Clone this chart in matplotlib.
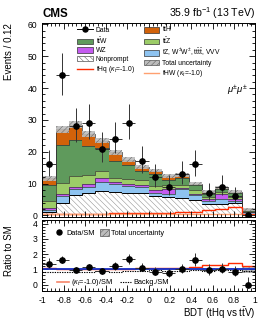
import numpy as np
import matplotlib
matplotlib.use("Agg")
import matplotlib.pyplot as plt
from matplotlib.patches import Patch
from matplotlib.lines import Line2D

plt.rcParams['font.family'] = ['Liberation Sans', 'DejaVu Sans']
plt.rcParams['mathtext.fontset'] = 'custom'
plt.rcParams['mathtext.rm'] = 'Liberation Sans'
plt.rcParams['mathtext.it'] = 'Liberation Sans:italic'
plt.rcParams['mathtext.bf'] = 'Liberation Sans:bold'
plt.rcParams['hatch.linewidth'] = 0.35

# ---------------- data ----------------
bin_edges = np.linspace(-1.0, 1.0, 17)
data = [16, 44, 28, 29, 21, 24, 29, 17, 12, 9, 13, 16, 7, 9, 6, 0]

nonprompt = [1.0, 4.0, 6.5, 6.9, 7.8, 7.5, 7.2, 7.0, 6.0, 5.8, 5.5, 4.7, 3.5, 3.7, 3.9, 0.5]
tz_other  = [0.6, 2.2, 1.9, 2.0, 2.6, 2.3, 2.0, 2.0, 1.0, 1.0, 2.7, 1.6, 0.9, 1.5, 0.7, 0.6]
wz        = [0.6, 0.6, 0.6, 1.0, 1.3, 0.6, 0.7, 0.6, 1.0, 1.6, 0.4, 0.5, 0.8, 1.6, 0.6, 0.1]
ttz       = [2.3, 3.4, 3.3, 2.7, 2.2, 1.5, 1.6, 1.4, 1.1, 1.0, 0.8, 1.1, 0.6, 0.5, 0.5, 0.2]
ttw       = [5.2, 12.0, 11.3, 9.3, 7.2, 5.1, 4.4, 2.9, 4.0, 1.8, 2.2, 1.5, 1.0, 1.0, 1.2, 0.3]
tth       = [2.0, 4.8, 4.9, 3.6, 2.4, 2.9, 1.6, 1.3, 1.0, 1.1, 1.0, 0.6, 0.6, 0.5, 0.5, 0.2]
total_unc = [0.8, 1.1, 1.1, 1.0, 0.9, 0.8, 0.7, 0.6, 0.6, 0.6, 0.6, 0.5, 0.5, 0.5, 0.5, 0.4]

thq_kt_m1 = [0.5, 0.5, 0.6, 0.6, 0.6, 0.7, 0.7, 0.8, 0.9, 0.9, 1.0, 1.2, 1.6, 2.0, 2.5, 0.3]
thw_kt_m1 = [0.3, 0.3, 0.3, 0.3, 0.3, 0.3, 0.3, 0.4, 0.4, 0.4, 0.4, 0.4, 0.5, 0.5, 0.5, 0.1]

components = [
    ("Nonprompt", nonprompt, "white"),
    ("tZ, W$^{\\pm}$W$^{\\pm}$, t$\\bar{\\mathrm{t}}$t$\\bar{\\mathrm{t}}$, VVV", tz_other, "#8ec3f0"),
    ("WZ", wz, "#c45bf0"),
    ("t$\\bar{\\mathrm{t}}$Z", ttz, "#9ccc68"),
    ("t$\\bar{\\mathrm{t}}$W", ttw, "#5f9a5c"),
    ("t$\\bar{\\mathrm{t}}$H", tth, "#d2620a"),
]

# ---------------- figure ----------------
fig = plt.figure(figsize=(2.66, 3.22), dpi=100)
ax1 = fig.add_axes([0.159, 0.326, 0.800, 0.6034])
ax2 = fig.add_axes([0.159, 0.0972, 0.800, 0.2196])

edges = bin_edges
centers = 0.5 * (edges[:-1] + edges[1:])
halfw = 0.5 * (edges[1] - edges[0])

bottom = np.zeros(16)
for name, vals, col in components:
    vals = np.asarray(vals, float)
    top = bottom + vals
    if name == "Nonprompt":
        ax1.stairs(top, edges, baseline=bottom, fill=True, facecolor="white",
                   edgecolor="#8a8a8a", hatch="\\\\\\\\\\\\", linewidth=0)
        ax1.stairs(top, edges, baseline=None, color="black", linewidth=0.7)
    else:
        ax1.stairs(top, edges, baseline=bottom, fill=True, facecolor=col,
                   edgecolor="none", linewidth=0)
        ax1.stairs(top, edges, baseline=None, color="#333333", linewidth=0.5)
    bottom = top
total = bottom.copy()
unc = np.asarray(total_unc, float)

ax1.stairs(total + unc, edges, baseline=total - unc, fill=True,
           facecolor="#bdbdbd", edgecolor="#555555", hatch="//////", linewidth=0, alpha=0.9)

ax1.stairs(thq_kt_m1, edges, baseline=None, color="#ff2a00", linewidth=1.0)
ax1.stairs(thw_kt_m1, edges, baseline=None, color="#ffa070", linewidth=1.0)

d = np.asarray(data, float)
err_up = 0.5 + np.sqrt(d + 0.25)
err_dn = np.where(d > 0, -0.5 + np.sqrt(d + 0.25), 0.0)
ax1.errorbar(centers, d, xerr=halfw, yerr=[err_dn, err_up], fmt='o', color='black',
             ecolor='#333333', elinewidth=0.7, markersize=3.8, capsize=0, zorder=10)

ax1.set_xlim(-1, 1)
ax1.set_ylim(-0.5, 60.5)
ax1.set_yticks(np.arange(0, 61, 10))
ax1.set_yticks(np.arange(0, 61, 2), minor=True)
ax1.set_xticks(np.arange(-1, 1.01, 0.2))
ax1.set_xticks(np.arange(-1, 1.001, 0.04), minor=True)
ax1.tick_params(labelbottom=False)
ax1.set_ylabel("Events / 0.12", loc="top", fontsize=7)
ax1.yaxis.set_label_coords(-0.135, 1.0)

ax1.text(0.74, 39, "$\\mu^{\\pm}\\mu^{\\pm}$", fontsize=6.8, ha="left", va="center")

# legend upper
h = [
    Line2D([], [], marker='o', color='black', markersize=3.6, linewidth=0.7),
    Patch(facecolor="#5f9a5c", edgecolor="#333333", linewidth=0.5),
    Patch(facecolor="#c45bf0", edgecolor="#333333", linewidth=0.5),
    Patch(facecolor="white", edgecolor="#555555", hatch="\\\\\\\\\\\\", linewidth=0.5),
    Line2D([], [], color="#ff2a00", linewidth=1.0),
    Patch(facecolor="#d2620a", edgecolor="#333333", linewidth=0.5),
    Patch(facecolor="#9ccc68", edgecolor="#333333", linewidth=0.5),
    Patch(facecolor="#8ec3f0", edgecolor="#333333", linewidth=0.5),
    Patch(facecolor="#bdbdbd", edgecolor="#555555", hatch="//////", linewidth=0.5),
    Line2D([], [], color="#ffa070", linewidth=1.0),
]
labels = ["Data", "t$\\bar{\\mathrm{t}}$W", "WZ", "Nonprompt", "tHq ($\\kappa_t$=-1.0)",
          "t$\\bar{\\mathrm{t}}$H", "t$\\bar{\\mathrm{t}}$Z",
          "tZ, W$^{\\pm}$W$^{\\pm}$, t$\\bar{\\mathrm{t}}$t$\\bar{\\mathrm{t}}$, VVV",
          "Total uncertainty", "tHW ($\\kappa_t$=-1.0)"]
ax1.legend(h, labels, ncol=2, loc="upper left", bbox_to_anchor=(0.163, 0.995),
           frameon=False, fontsize=4.9, handlelength=2.3, handleheight=0.9,
           labelspacing=0.2, handletextpad=0.45, columnspacing=1.3,
           borderpad=0, borderaxespad=0)

# ---------------- ratio ----------------
ratio = d / total
r_up = err_up / total
r_dn = err_dn / total
ratio_unc = unc / total
sig_ratio = 1 + (np.asarray(thq_kt_m1) + np.asarray(thw_kt_m1)) / total
bkg_ratio = (total - np.asarray(tth)) / total

ax2.stairs(1 + ratio_unc, edges, baseline=1 - ratio_unc, fill=True,
           facecolor="#bdbdbd", edgecolor="#555555", hatch="//////", linewidth=0, alpha=0.9)
ax2.axhline(1.0, color="#1530c8", linewidth=1.3)
ax2.stairs(sig_ratio, edges, baseline=None, color="#ff2a00", linewidth=1.0)
ax2.stairs(bkg_ratio, edges, baseline=None, color="black", linewidth=0.8, linestyle=(0, (1.2, 1.0)))
ax2.errorbar(centers, ratio, xerr=halfw, yerr=[r_dn, r_up], fmt='o', color='black',
             ecolor='#333333', elinewidth=0.7, markersize=3.8, capsize=0, zorder=10)

ax2.set_xlim(-1, 1)
ax2.set_ylim(-0.4, 4.25)
ax2.set_yticks(np.arange(0, 5, 1))
ax2.set_yticks(np.arange(-0.4, 4.25, 0.2), minor=True)
xt = np.round(np.arange(-1, 1.01, 0.2), 1)
ax2.set_xticks(xt)
ax2.set_xticklabels(["%g" % v if v != 0 else "0" for v in xt])
ax2.set_xticks(np.arange(-1, 1.001, 0.04), minor=True)
ax2.set_ylabel("Ratio to SM", loc="top", fontsize=7)
ax2.yaxis.set_label_coords(-0.135, 0.93)
ax2.set_xlabel("BDT (tHq vs t$\\bar{\\mathrm{t}}$V)", loc="right", fontsize=7)
ax2.xaxis.set_label_coords(1.0, -0.2)

for ax in (ax1, ax2):
    ax.tick_params(which="both", direction="in", top=True, right=True, labelsize=6.2, width=0.6)
    ax.tick_params(which="major", length=4)
    ax.tick_params(which="minor", length=2)
    for s in ax.spines.values():
        s.set_linewidth(0.7)

lg1 = ax2.legend([Line2D([], [], marker='o', color='black', markersize=3.6, linestyle='none'),
                  Patch(facecolor="#bdbdbd", edgecolor="#555555", hatch="//////", linewidth=0.5)],
                 ["Data/SM", "Total uncertainty"], ncol=2, loc="center left",
                 bbox_to_anchor=(0.06, 0.816), frameon=False, fontsize=5.3,
                 handlelength=1.2, handleheight=1.0, handletextpad=0.3, columnspacing=0.7,
                 borderpad=0, borderaxespad=0)
ax2.add_artist(lg1)
ax2.legend([Line2D([], [], color="#f6856a", linewidth=1.2),
            Line2D([], [], color="black", linewidth=0.8, linestyle=(0, (1.2, 1.0)))],
           ["($\\kappa_t$=-1.0)/SM", "Backg./SM"], ncol=2, loc="center left",
           bbox_to_anchor=(0.07, 0.11), frameon=False, fontsize=5.3,
           handlelength=1.6, handletextpad=0.3, columnspacing=0.9,
           borderpad=0, borderaxespad=0)

fig.text(0.160, 0.946, "CMS", fontsize=8.3, fontweight="bold", ha="left", va="baseline")
fig.text(0.959, 0.946, "35.9 fb$^{-1}$ (13 TeV)", fontsize=7.6, ha="right", va="baseline")

fig.savefig("out.png", dpi=100)
